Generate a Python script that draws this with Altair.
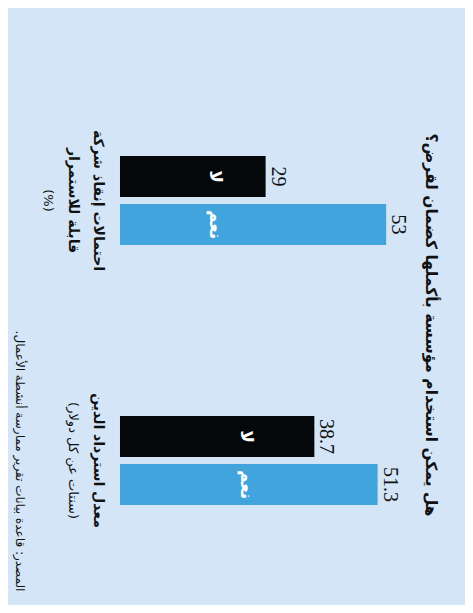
import altair as alt
import pandas as pd

# ---- data ----
title_text = "هل يمكن استخدام مؤسسة بأكملها كضمان لقرض؟"
source_text = "المصدر: قاعدة بيانات تقرير ممارسة أنشطة الأعمال."
group_lines = [["احتمالات إنقاذ شركة", "قابلة للاستمرار"], ["معدل استرداد الدين"]]
units = ["(%)", "(سنتات عن كل دولار)"]
answers = ["لا", "نعم"]
no_values = [29, 38.7]
yes_values = [53, 51.3]

colors = ["#05080a", "#41a4dd"]
bg = "#d3e5f6"
RLM = "\u200f"  # keeps neutral punctuation on the right-to-left side

groups = [" ".join(g) for g in group_lines]

rows = []
for g, n, y in zip(groups, no_values, yes_values):
    rows.append({"group": g, "answer": answers[0], "value": n})
    rows.append({"group": g, "answer": answers[1], "value": y})
bars_df = pd.DataFrame(rows)

# one row per label line (bold name lines, then the normal-weight unit line)
lrows = []
for g, lines, u in zip(groups, group_lines, units):
    for i, t in enumerate(lines):
        lrows.append({"group": g, "text": RLM + t + RLM, "line": i, "bold": 1})
    lrows.append({"group": g, "text": RLM + u + RLM, "line": len(lines), "bold": 0})
lines_df = pd.DataFrame(lrows)

W, H = 457, 597
ARABIC = "DejaVu Sans"

x_scale = alt.Scale(domain=[-22.3, 68.7], nice=False, zero=False)
y_scale = alt.Scale(domain=groups, paddingInner=0.658, paddingOuter=0.477, align=0.597)
yo_scale = alt.Scale(domain=answers, paddingInner=0.146, paddingOuter=0)

base = alt.Chart(bars_df).encode(
    y=alt.Y("group:N", scale=y_scale, axis=None),
    yOffset=alt.YOffset("answer:N", scale=yo_scale),
)

bars = base.mark_bar().encode(
    x=alt.X("value:Q", scale=x_scale, axis=None),
    color=alt.Color("answer:N", scale=alt.Scale(domain=answers, range=colors), legend=None),
)

values = base.mark_text(
    angle=90, align="center", baseline="alphabetic", dy=-6,
    font="Liberation Sans Narrow", fontSize=20, color="#111111",
).encode(
    x=alt.X("value:Q", scale=x_scale, axis=None),
    text=alt.Text("value:Q"),
)

inner = base.transform_joinaggregate(
    gmin="min(value)", groupby=["group"]
).transform_calculate(
    pos="0.65 * datum.gmin"
).mark_text(
    angle=90, align="center", baseline="middle",
    font=ARABIC, fontSize=17, fontWeight="bold", color="white",
).encode(
    x=alt.X("pos:Q", scale=x_scale, axis=None),
    text="answer:N",
)

label_layers = []
for i in range(3):
    for b in (1, 0):
        label_layers.append(
            alt.Chart(lines_df).transform_filter(
                f"datum.line == {i} && datum.bold == {b}"
            ).mark_text(
                angle=90, align="center", baseline="middle",
                font=ARABIC, fontSize=14 if b else 13,
                fontWeight="bold" if b else "normal", color="#111111",
            ).encode(
                y=alt.Y("group:N", scale=y_scale, axis=None),
                x=alt.value(90 - 25 * i),
                text="text:N",
            )
        )

title = alt.Chart(pd.DataFrame({"t": [RLM + title_text + RLM]})).mark_text(
    angle=90, align="center", baseline="middle",
    font=ARABIC, fontSize=15.5, fontWeight="bold", color="#111111",
).encode(x=alt.value(423), y=alt.value(317), text="t:N")

source = alt.Chart(pd.DataFrame({"t": [RLM + source_text + RLM]})).mark_text(
    angle=90, align="center", baseline="middle",
    font=ARABIC, fontSize=12, color="#111111",
).encode(x=alt.value(12), y=alt.value(453), text="t:N")

chart = alt.layer(bars, values, inner, *label_layers, title, source).properties(
    width=W, height=H,
    autosize=alt.AutoSizeParams(type="none"),
    padding=0,
    background=bg,
).configure_view(stroke=None)

chart.save("out.html", embed_options={"renderer": "svg", "actions": False})
